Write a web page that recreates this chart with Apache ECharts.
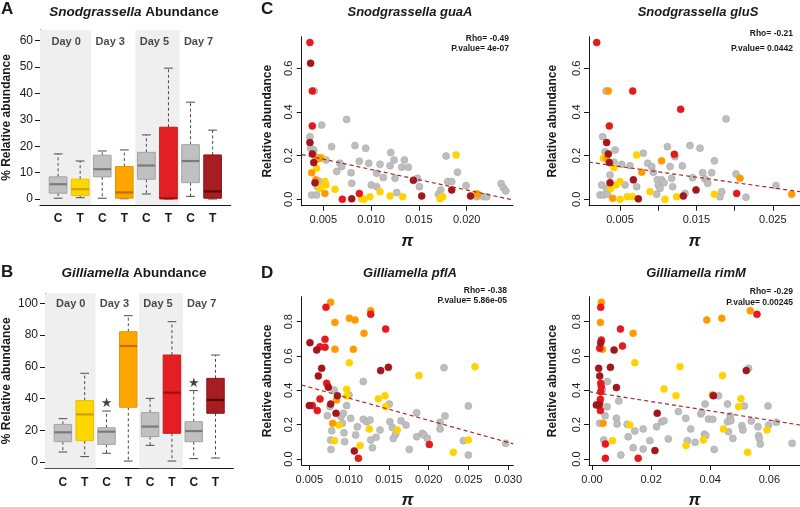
<!DOCTYPE html>
<html>
<head>
<meta charset="utf-8">
<script src="https://cdn.jsdelivr.net/npm/echarts@6.0.0/dist/echarts.min.js"></script>
<style>
  html, body { margin: 0; padding: 0; background: #fff; }
  #chart { width: 800px; height: 507px; }
</style>
</head>
<body>
<div id="chart"></div>
<script>
// box plot categories (control / treatment per day)
const boxCats = ['C', 'T', 'C', 'T', 'C', 'T', 'C', 'T']
const dayLabels = ['Day 0', 'Day 3', 'Day 5', 'Day 7']

// Snodgrassella abundance (%), per box: min, Q1, median, Q3, max
const snodMin = [0.3, 0.5, 0.3, 0.1, 1.9, 0.0, 1.0, 0.0]
const snodQ1 = [2.2, 1.3, 8.4, 0.3, 7.5, 0.1, 6.2, 0.3]
const snodMed = [5.6, 3.7, 11.3, 2.5, 12.7, 0.3, 14.4, 2.9]
const snodQ3 = [8.4, 7.5, 16.6, 12.3, 17.7, 27.2, 20.6, 16.7]
const snodMax = [17.1, 14.4, 18.2, 18.6, 24.3, 49.6, 36.7, 26.1]

// Gilliamella abundance (%)
const gillMin = [6.3, 3.4, 5.5, 0.6, 10.5, 0.6, 2.1, 2.5]
const gillQ1 = [12.8, 13.4, 11.1, 34.5, 16.0, 18.1, 12.8, 30.7]
const gillMed = [18.7, 30.0, 19.1, 73.1, 22.3, 43.7, 19.5, 39.1]
const gillQ3 = [23.7, 38.7, 21.6, 82.1, 31.1, 67.4, 25.4, 52.7]
const gillMax = [27.3, 55.9, 32.1, 92.2, 40.1, 88.4, 45.0, 67.4]
// significance stars (box index, height)
const gillStars = [[3, 36.5], [7, 49.6]]

// Snodgrassella guaA: [pi, relative abundance]
const guaAGray = [[0.00406,0.496],[0.0036,0.287],[0.00483,0.34],[0.00367,0.234],[0.0040,0.226],[0.0042,0.195],[0.00378,0.02],[0.0043,0.02],[0.00437,0.058],[0.00458,0.081],[0.00528,0.18],[0.00587,0.241],[0.00674,0.165],[0.00692,0.15],[0.0064,0.127],[0.00744,0.366],[0.0079,0.122],[0.00797,0.073],[0.00831,0.246],[0.00877,0.174],[0.00943,0.234],[0.00975,0.165],[0.01002,0.066],[0.01058,0.058],[0.01058,0.119],[0.01093,0.16],[0.01128,0.1],[0.01205,0.214],[0.0124,0.18],[0.01198,0.154],[0.0125,0.096],[0.01268,0.031],[0.0132,0.147],[0.01348,0.18],[0.0139,0.147],[0.01484,0.096],[0.01505,0.058],[0.01704,0.023],[0.01728,0.043],[0.01784,0.198],[0.01801,0.081],[0.01843,0.081],[0.01903,0.124],[0.01993,0.063],[0.02105,0.012],[0.02175,0.012],[0.0221,0.012],[0.0236,0.072],[0.02384,0.053],[0.02408,0.038]]
const guaAYellow = [[0.00483,0.192],[0.0043,0.142],[0.00465,0.05],[0.00517,0.081],[0.00528,0.066],[0.00622,0.046],[0.00901,0.002],[0.00926,0.0],[0.00988,0.012],[0.01093,0.035],[0.01198,0.015],[0.0133,0.012],[0.01721,0.002],[0.01749,0.012],[0.01889,0.203],[0.0210,0.027]]
const guaAOrange = [[0.00378,0.122],[0.0043,0.183],[0.00465,0.188],[0.00423,0.089],[0.00517,0.027],[0.02115,0.023]]
const guaARed = [[0.0036,0.718],[0.00385,0.496],[0.00385,0.336],[0.00699,0.0],[0.00877,0.027]]
const guaADark = [[0.00367,0.623],[0.0036,0.26],[0.00385,0.208],[0.0040,0.168],[0.00413,0.076],[0.00797,0.002],[0.01442,0.087],[0.01529,0.015],[0.01843,0.043],[0.0204,0.015]]
const guaAFit = [[0.00274, 0.205], [0.02484, -0.003]]
const guaAStats = ['Rho= -0.49', 'P.value= 4e-07']

// Snodgrassella gluS
const gluSGray = [[0.00317,0.496],[0.00273,0.287],[0.00304,0.218],[0.00317,0.203],[0.00435,0.226],[0.00238,0.02],[0.00282,0.02],[0.00334,0.023],[0.0026,0.066],[0.00325,0.05],[0.00369,0.111],[0.00421,0.17],[0.00522,0.16],[0.00631,0.154],[0.00565,0.066],[0.00718,0.058],[0.00805,0.211],[0.00862,0.165],[0.00915,0.15],[0.00936,0.124],[0.00989,0.089],[0.01002,0.066],[0.01024,0.05],[0.01045,0.089],[0.01076,0.076],[0.0098,0.023],[0.0112,0.241],[0.01155,0.15],[0.01176,0.096],[0.01189,0.058],[0.0122,0.195],[0.01316,0.153],[0.01351,0.027],[0.01416,0.246],[0.01451,0.099],[0.01547,0.234],[0.01582,0.122],[0.01613,0.093],[0.01648,0.073],[0.017,0.122],[0.01735,0.176],[0.01809,0.012],[0.01831,0.035],[0.01888,0.368],[0.02018,0.116],[0.02149,0.009],[0.02542,0.063]]
const gluSYellow = [[0.00282,0.188],[0.00421,0.145],[0.00378,0.05],[0.00448,0.066],[0.005,0.081],[0.005,0.0],[0.00596,0.012],[0.00661,0.012],[0.00718,0.203],[0.00893,0.035],[0.01089,0.0],[0.01242,0.012],[0.01735,0.023]]
const gluSOrange = [[0.00347,0.496],[0.00325,0.188],[0.00404,0.005],[0.00784,0.124],[0.01045,0.176],[0.02071,0.096],[0.02747,0.023]]
const gluSRed = [[0.00195,0.718],[0.00666,0.496],[0.0036,0.336],[0.01294,0.412],[0.01211,0.206],[0.02027,0.027]]
const gluSDark = [[0.00325,0.26],[0.00347,0.208],[0.0036,0.168],[0.00369,0.076],[0.00675,0.089],[0.0074,0.002],[0.01329,0.015],[0.01495,0.043]]
const gluSFit = [[0.00094, 0.17], [0.02856, 0.035]]
const gluSStats = ['Rho= -0.21', 'P.value= 0.0442']

// Gilliamella pflA
const pflAGray = [[0.00726,0.252],[0.0076,0.305],[0.00781,0.165],[0.00768,0.111],[0.00772,0.056],[0.0081,0.402],[0.00898,0.247],[0.00927,0.266],[0.00915,0.208],[0.00936,0.153],[0.00944,0.101],[0.00969,0.311],[0.00998,0.373],[0.01019,0.237],[0.01082,0.14],[0.01103,0.188],[0.01178,0.451],[0.01178,0.231],[0.0122,0.217],[0.01262,0.227],[0.01271,0.111],[0.01292,0.066],[0.01338,0.126],[0.01388,0.169],[0.01505,0.32],[0.01513,0.217],[0.01543,0.183],[0.01555,0.12],[0.01585,0.144],[0.01652,0.223],[0.01715,0.198],[0.01756,0.056],[0.01849,0.27],[0.01849,0.13],[0.0192,0.15],[0.01941,0.14],[0.01983,0.12],[0.02142,0.214],[0.02142,0.175],[0.02205,0.251],[0.02192,0.532],[0.02435,0.107],[0.02498,0.309],[0.02498,0.023],[0.02967,0.091]]
const pflAYellow = [[0.01003,0.561],[0.00969,0.406],[0.00969,0.367],[0.00873,0.198],[0.00814,0.107],[0.01137,0.078],[0.01254,0.175],[0.01367,0.351],[0.01451,0.369],[0.01459,0.305],[0.01606,0.169],[0.01878,0.486],[0.02581,0.538],[0.02498,0.111],[0.02309,0.039]]
const pflAOrange = [[0.00768,0.913],[0.00822,0.796],[0.01003,0.82],[0.01074,0.81],[0.01187,0.732],[0.01271,0.864],[0.00822,0.639],[0.01053,0.639],[0.00843,0.344],[0.00793,0.208]]
const pflARed = [[0.00709,0.884],[0.00697,0.697],[0.00634,0.654],[0.00697,0.651],[0.00634,0.35],[0.006,0.282],[0.00718,0.441],[0.00538,0.311],[0.01271,0.843],[0.01459,0.757],[0.02008,0.085],[0.01116,0.004]]
const pflADark = [[0.00508,0.678],[0.00592,0.635],[0.00655,0.528],[0.00613,0.484],[0.00739,0.418],[0.00852,0.369],[0.00768,0.32],[0.00835,0.266],[0.01396,0.515],[0.01493,0.534],[0.01065,0.047],[0.005,0.311]]
const pflAFit = [[0.00404, 0.431], [0.03063, 0.088]]
const pflAStats = ['Rho= -0.38', 'P.value= 5.86e-05']

// Gilliamella rimM
const rimMGray = [[0.0026,0.208],[0.00396,0.111],[0.00509,0.305],[0.00521,0.451],[0.00441,0.252],[0.00351,0.402],[0.00826,0.237],[0.00849,0.204],[0.00906,0.338],[0.00974,0.023],[0.01189,0.202],[0.01223,0.13],[0.01449,0.163],[0.01392,0.066],[0.01732,0.175],[0.01732,0.058],[0.01958,0.107],[0.02185,0.188],[0.02355,0.217],[0.02434,0.223],[0.02581,0.117],[0.02921,0.276],[0.0317,0.237],[0.03226,0.107],[0.03339,0.175],[0.03487,0.097],[0.03679,0.262],[0.03713,0.272],[0.03826,0.32],[0.03804,0.144],[0.03849,0.136],[0.03939,0.233],[0.04087,0.231],[0.04132,0.056],[0.04279,0.369],[0.04585,0.32],[0.04585,0.217],[0.04675,0.251],[0.04619,0.159],[0.04698,0.223],[0.04766,0.12],[0.05071,0.194],[0.05105,0.169],[0.05151,0.309],[0.05298,0.528],[0.05388,0.221],[0.05615,0.188],[0.05637,0.136],[0.0566,0.12],[0.05694,0.087],[0.05954,0.309],[0.05977,0.198],[0.06237,0.214],[0.0677,0.091]]
const rimMYellow = [[0.01449,0.561],[0.02977,0.538],[0.02434,0.408],[0.02841,0.369],[0.04415,0.486],[0.05037,0.351],[0.04958,0.305],[0.01279,0.198],[0.00691,0.107],[0.03181,0.078],[0.0377,0.111],[0.04449,0.175],[0.0592,0.169],[0.05264,0.039]]
const rimMOrange = [[0.00317,0.913],[0.00283,0.796],[0.00351,0.639],[0.01392,0.732],[0.03883,0.81],[0.04392,0.82],[0.05354,0.864],[0.00374,0.208],[0.04075,0.373]]
const rimMRed = [[0.00294,0.884],[0.00317,0.693],[0.0026,0.645],[0.00294,0.441],[0.00317,0.421],[0.00294,0.392],[0.00283,0.348],[0.0026,0.324],[0.00283,0.282],[0.00962,0.757],[0.0103,0.658],[0.00453,0.087],[0.00453,0.004],[0.01562,0.004],[0.05581,0.843]]
const rimMDark = [[0.00226,0.528],[0.0026,0.484],[0.00147,0.315],[0.00238,0.315],[0.00623,0.534],[0.00747,0.635],[0.00826,0.416],[0.02207,0.266],[0.02128,0.049],[0.04109,0.369],[0.05219,0.515],[0.00294,0.678]]
const rimMFit = [[-0.00102, 0.392], [0.07037, 0.198]]
const rimMStats = ['Rho= -0.29', 'P.value= 0.00245']

// ---- styles ----
const FONT = "'Liberation Sans', Arial, Helvetica, sans-serif"
const INK = '#1a1a1a'
const boxFill = ['#C0C0C0', '#FFD700', '#C0C0C0', '#FFA500', '#C0C0C0', '#E41F23', '#C0C0C0', '#A61D22']
const boxBorder = ['#A3A3A3', '#E8C300', '#A3A3A3', '#E89400', '#A3A3A3', '#CC171B', '#A3A3A3', '#8C151A']
const boxMedian = ['#7A7A7A', '#C9A200', '#7A7A7A', '#C06E00', '#7A7A7A', '#A10F12', '#7A7A7A', '#5A0508']
const dotColors = { gray: '#BEBEBE', yellow: '#FFD200', orange: '#FF9A00', red: '#E41A1C', dark: '#A3161B' }

function boxData(mins, q1s, meds, q3s, maxs) {
  return boxCats.map((c, i) => [i + 1, mins[i], q1s[i], meds[i], q3s[i], maxs[i]])
}

function renderBox(params, api) {
  const i = params.dataIndex
  const x = api.value(0)
  const pMin = api.coord([x, api.value(1)])
  const pQ1 = api.coord([x, api.value(2)])
  const pMed = api.coord([x, api.value(3)])
  const pQ3 = api.coord([x, api.value(4)])
  const pMax = api.coord([x, api.value(5)])
  const half = api.size([0.8, 0])[0] / 2
  const cap = half / 2
  const cx = pMed[0]
  const whisk = { stroke: '#4a4a4a', lineWidth: 1, lineDash: [3, 2.5] }
  const capStyle = { stroke: '#4a4a4a', lineWidth: 1 }
  return {
    type: 'group',
    children: [
      { type: 'line', shape: { x1: cx, y1: pQ3[1], x2: cx, y2: pMax[1] }, style: whisk },
      { type: 'line', shape: { x1: cx, y1: pQ1[1], x2: cx, y2: pMin[1] }, style: whisk },
      { type: 'line', shape: { x1: cx - cap, y1: pMax[1], x2: cx + cap, y2: pMax[1] }, style: capStyle },
      { type: 'line', shape: { x1: cx - cap, y1: pMin[1], x2: cx + cap, y2: pMin[1] }, style: capStyle },
      {
        type: 'rect',
        shape: { x: cx - half, y: pQ3[1], width: half * 2, height: Math.max(pQ1[1] - pQ3[1], 1) },
        style: { fill: boxFill[i], stroke: boxBorder[i], lineWidth: 1 }
      },
      { type: 'line', shape: { x1: cx - half, y1: pMed[1], x2: cx + half, y2: pMed[1] }, style: { stroke: boxMedian[i], lineWidth: 2.2 } }
    ]
  }
}

function boxYAxis(idx, min, max, ticks, gap) {
  return {
    type: 'value', gridIndex: idx, min: min, max: max,
    name: '% Relative abundance', nameLocation: 'middle', nameGap: gap, nameRotate: 90,
    nameTextStyle: { fontFamily: FONT, fontWeight: 'bold', fontSize: 12, color: INK },
    axisLine: { show: true, lineStyle: { color: INK, width: 1 } },
    axisTick: { show: true, length: 5, lineStyle: { color: INK }, customValues: ticks },
    axisLabel: { fontFamily: FONT, fontSize: 12, color: INK, margin: 7, customValues: ticks },
    splitLine: { show: false }
  }
}

function boxXAxis(idx) {
  return {
    type: 'value', gridIndex: idx, min: 0.18, max: 8.82,
    axisLine: { show: true, onZero: false, lineStyle: { color: INK, width: 1 } },
    axisTick: { show: false },
    axisLabel: {
      fontFamily: FONT, fontSize: 12, fontWeight: 'bold', color: INK, margin: 8,
      customValues: boxCats.map((c, i) => i + 1),
      formatter: (v) => boxCats[Math.round(v) - 1]
    },
    splitLine: { show: false }
  }
}

function sctXAxis(idx, min, max, ticks, labels, digits) {
  return {
    type: 'value', gridIndex: idx, min: min, max: max,
    name: 'π', nameLocation: 'middle', nameGap: 27,
    nameTextStyle: { fontFamily: FONT, fontWeight: 'bold', fontStyle: 'italic', fontSize: 17, color: INK },
    axisLine: { show: true, onZero: false, lineStyle: { color: INK, width: 1 } },
    axisTick: { show: true, length: 5, lineStyle: { color: INK }, customValues: ticks },
    axisLabel: { fontFamily: FONT, fontSize: 11, color: INK, margin: 9, customValues: labels, formatter: (v) => v.toFixed(digits) },
    splitLine: { show: false }
  }
}

function sctYAxis(idx, min, max, ticks, gap) {
  return {
    type: 'value', gridIndex: idx, min: min, max: max,
    name: 'Relative abundance', nameLocation: 'middle', nameGap: gap, nameRotate: 90,
    nameTextStyle: { fontFamily: FONT, fontWeight: 'bold', fontSize: 12, color: INK },
    axisLine: { show: true, onZero: false, lineStyle: { color: INK, width: 1 } },
    axisTick: { show: true, length: 5, lineStyle: { color: INK }, customValues: ticks },
    axisLabel: { fontFamily: FONT, fontSize: 11, color: INK, margin: 7, rotate: 90, customValues: ticks, formatter: (v) => v.toFixed(1) },
    splitLine: { show: false }
  }
}

function dots(data, key, idx) {
  return {
    type: 'scatter', xAxisIndex: idx, yAxisIndex: idx, data: data, symbolSize: 7, z: 3, silent: true,
    itemStyle: { color: dotColors[key], borderColor: key === 'gray' ? '#A9A9A9' : dotColors[key], borderWidth: 0.6, opacity: 1 }
  }
}

function fitLine(data, idx) {
  return {
    type: 'line', xAxisIndex: idx, yAxisIndex: idx, data: data, symbol: 'none', z: 4, silent: true, clip: true,
    lineStyle: { color: '#A52A2A', width: 1.2, type: [4, 3] }
  }
}

function panel(idx, gray, yellow, orange, red, dark, fit) {
  return [dots(gray, 'gray', idx), dots(yellow, 'yellow', idx), dots(orange, 'orange', idx),
    dots(red, 'red', idx), dots(dark, 'dark', idx), fitLine(fit, idx)]
}

function dayLabelSeries(idx, y, bands) {
  return {
    type: 'scatter', xAxisIndex: idx, yAxisIndex: idx, symbolSize: 0, z: 1, silent: true,
    data: dayLabels.map((d, i) => ({ name: d, value: [2 * i + 1.5, y] })),
    label: { show: true, position: 'inside', offset: [-3, 0], formatter: '{b}', fontFamily: FONT, fontSize: 11, fontWeight: 'bold', color: INK },
    markArea: { silent: true, itemStyle: { color: '#EFEFEF' }, data: bands.map(b => [{ xAxis: b[0] }, { xAxis: b[1] }]) }
  }
}

function txt(x, y, text, size, opts) {
  return {
    type: 'text', x: x, y: y, silent: true,
    style: Object.assign({ text: text, fontFamily: FONT, fontSize: size, fontWeight: 'bold', fill: INK, align: 'left', verticalAlign: 'middle' }, opts || {})
  }
}

function mixedTitle(x, y, italicPart, plainPart) {
  return {
    type: 'text', x: x, y: y, silent: true,
    style: {
      text: '{i|' + italicPart + '} {b|' + plainPart + '}',
      fontFamily: FONT, fontSize: 13.5, fontWeight: 'bold', fill: INK, align: 'center', verticalAlign: 'middle',
      rich: {
        i: { fontFamily: FONT, fontSize: 13.5, fontWeight: 'bold', fontStyle: 'italic', fill: INK },
        b: { fontFamily: FONT, fontSize: 13.5, fontWeight: 'bold', fill: INK }
      }
    }
  }
}

const chart = echarts.init(document.getElementById('chart'), null, { renderer: 'canvas' })

const option = {
  animation: false,
  backgroundColor: '#ffffff',
  grid: [
    { left: 40, top: 30, width: 190.7, height: 175, outerBoundsMode: 'none' },
    { left: 45, top: 293.3, width: 188.4, height: 175, outerBoundsMode: 'none' },
    { left: 301.7, top: 36.7, width: 211.3, height: 169, outerBoundsMode: 'none' },
    { left: 589, top: 36.7, width: 211, height: 169, outerBoundsMode: 'none' },
    { left: 301.7, top: 296.7, width: 211.6, height: 168.3, outerBoundsMode: 'none' },
    { left: 589, top: 296.7, width: 211, height: 168.3, outerBoundsMode: 'none' }
  ],
  xAxis: [
    boxXAxis(0),
    boxXAxis(1),
    sctXAxis(2, 0.00274, 0.02484, [0.005, 0.01, 0.015, 0.02], [0.005, 0.01, 0.015, 0.02], 3),
    sctXAxis(3, 0.00094, 0.02856, [0.005, 0.01, 0.015, 0.02, 0.025], [0.005, 0.015, 0.025], 3),
    sctXAxis(4, 0.00404, 0.03063, [0.005, 0.01, 0.015, 0.02, 0.025, 0.03], [0.005, 0.01, 0.015, 0.02, 0.025, 0.03], 3),
    sctXAxis(5, -0.00102, 0.07037, [0, 0.02, 0.04, 0.06], [0, 0.02, 0.04, 0.06], 2)
  ],
  yAxis: [
    boxYAxis(0, -2.27, 64.06, [0, 10, 20, 30, 40, 50, 60], 27),
    boxYAxis(1, -3.97, 106.3, [0, 20, 40, 60, 80, 100], 32),
    sctYAxis(2, -0.0293, 0.7447, [0, 0.2, 0.4, 0.6], 28),
    sctYAxis(3, -0.0293, 0.7447, [0, 0.2, 0.4, 0.6], 30),
    sctYAxis(4, -0.035, 0.9456, [0, 0.2, 0.4, 0.6, 0.8], 28),
    sctYAxis(5, -0.035, 0.9456, [0, 0.2, 0.4, 0.6, 0.8], 30)
  ],
  series: [
    dayLabelSeries(0, 59.5, [[0.18, 2.5], [4.5, 6.5]]),
    {
      type: 'custom', xAxisIndex: 0, yAxisIndex: 0, z: 2, silent: true,
      data: boxData(snodMin, snodQ1, snodMed, snodQ3, snodMax),
      encode: { x: 0, y: [1, 2, 3, 4, 5] },
      renderItem: renderBox
    },
    dayLabelSeries(1, 99.6, [[0.18, 2.5], [4.5, 6.5]]),
    {
      type: 'custom', xAxisIndex: 1, yAxisIndex: 1, z: 2, silent: true,
      data: boxData(gillMin, gillQ1, gillMed, gillQ3, gillMax),
      encode: { x: 0, y: [1, 2, 3, 4, 5] },
      renderItem: renderBox
    },
    {
      type: 'scatter', xAxisIndex: 1, yAxisIndex: 1, symbolSize: 0, z: 3, silent: true,
      data: gillStars,
      label: { show: true, position: 'inside', formatter: '★', fontFamily: "'DejaVu Sans', sans-serif", fontSize: 13, color: '#111' }
    },
    ...panel(2, guaAGray, guaAYellow, guaAOrange, guaARed, guaADark, guaAFit),
    ...panel(3, gluSGray, gluSYellow, gluSOrange, gluSRed, gluSDark, gluSFit),
    ...panel(4, pflAGray, pflAYellow, pflAOrange, pflARed, pflADark, pflAFit),
    ...panel(5, rimMGray, rimMYellow, rimMOrange, rimMRed, rimMDark, rimMFit)
  ],
  graphic: [
    txt(1, 9, 'A', 17),
    txt(1, 272, 'B', 17),
    txt(261, 9, 'C', 17),
    txt(261, 273, 'D', 17),
    mixedTitle(134, 12, 'Snodgrassella', 'Abundance'),
    mixedTitle(134, 273, 'Gilliamella', 'Abundance'),
    txt(410, 12, 'Snodgrassella guaA', 13, { align: 'center', fontStyle: 'italic' }),
    txt(698, 12, 'Snodgrassella gluS', 13, { align: 'center', fontStyle: 'italic' }),
    txt(410, 273, 'Gilliamella pflA', 13, { align: 'center', fontStyle: 'italic' }),
    txt(696, 273, 'Gilliamella rimM', 13, { align: 'center', fontStyle: 'italic' }),
    txt(509, 39, guaAStats[0], 8.5, { align: 'right' }),
    txt(509, 48.5, guaAStats[1], 8.5, { align: 'right' }),
    txt(793, 34, gluSStats[0], 8.5, { align: 'right' }),
    txt(793, 48.5, gluSStats[1], 8.5, { align: 'right' }),
    txt(507, 291, pflAStats[0], 8.5, { align: 'right' }),
    txt(507, 300.5, pflAStats[1], 8.5, { align: 'right' }),
    txt(793, 292, rimMStats[0], 8.5, { align: 'right' }),
    txt(793, 302.5, rimMStats[1], 8.5, { align: 'right' })
  ]
}

option && chart.setOption(option, true)
</script>
</body>
</html>
